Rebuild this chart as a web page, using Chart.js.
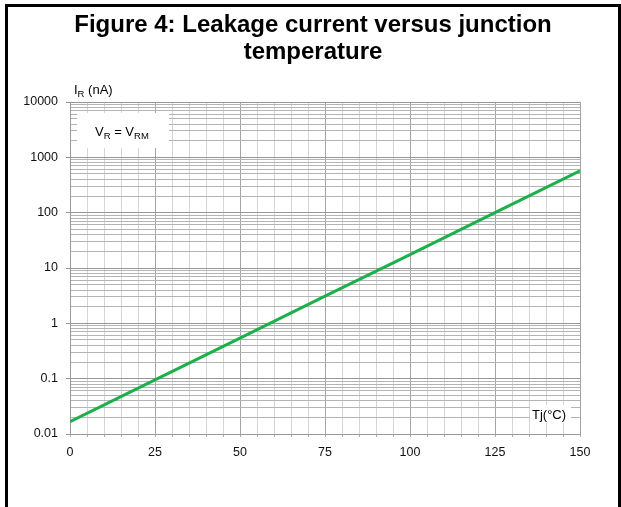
<!DOCTYPE html>
<html>
<head>
<meta charset="utf-8">
<script src="https://cdn.jsdelivr.net/npm/chart.js@4/dist/chart.umd.min.js"></script>
<style>
  html, body { margin: 0; padding: 0; background: #fff; }
  #wrap { width: 621px; height: 507px; }
</style>
</head>
<body>
<div id="wrap"><canvas id="c" width="621" height="507"></canvas></div>
<script>
// ---- data ----
const titleLines = ['Figure 4: Leakage current versus junction', 'temperature'];
const tjCelsius = [0, 25, 50, 75, 100, 125, 150];
const leakageNa = [0.0167, 0.095, 0.54, 3.1, 17.5, 100, 570];
const xTickLabels = ['0', '25', '50', '75', '100', '125', '150'];
const yTickValues = [0.01, 0.1, 1, 10, 100, 1000, 10000];
const yTickLabels = ['0.01', '0.1', '1', '10', '100', '1000', '10000'];

const FONT = '"Liberation Sans", Arial, sans-serif';

function isDecade(v) {
  return yTickValues.some(d => Math.abs(v / d - 1) < 1e-6);
}

const framePlugin = {
  id: 'frame',
  beforeDraw(chart) {
    const ctx = chart.ctx;
    ctx.save();
    ctx.fillStyle = '#ffffff';
    ctx.fillRect(0, 0, chart.width, chart.height);
    ctx.restore();
  },
  beforeDatasetsDraw(chart) {
    const ctx = chart.ctx;
    ctx.save();
    // annotation boxes
    ctx.fillStyle = '#ffffff';
    ctx.fillRect(77, 113, 92, 35);
    ctx.fillRect(530, 405, 41, 18);
    ctx.fillStyle = '#000000';
    ctx.textBaseline = 'alphabetic';
    // V_R = V_RM
    let x = 95, y = 136;
    ctx.font = '13px ' + FONT;
    ctx.fillText('V', x, y); x += ctx.measureText('V').width;
    ctx.font = '9.5px ' + FONT;
    ctx.fillText('R', x, y + 3); x += ctx.measureText('R').width;
    ctx.font = '13px ' + FONT;
    ctx.fillText(' = V', x, y); x += ctx.measureText(' = V').width;
    ctx.font = '9.5px ' + FONT;
    ctx.fillText('RM', x, y + 3);
    // Tj(°C)
    ctx.font = '13px ' + FONT;
    ctx.fillText('Tj(°C)', 532, 419);
    // I_R (nA)
    x = 74; y = 94;
    ctx.font = '13px ' + FONT;
    ctx.fillText('I', x, y); x += ctx.measureText('I').width;
    ctx.font = '9.5px ' + FONT;
    ctx.fillText('R', x, y + 3); x += ctx.measureText('R').width;
    ctx.font = '13px ' + FONT;
    ctx.fillText(' (nA)', x, y);
    ctx.restore();
  },
  afterDraw(chart) {
    const ctx = chart.ctx;
    ctx.save();
    ctx.fillStyle = '#000000';
    ctx.font = 'bold 24px ' + FONT;
    ctx.textAlign = 'center';
    ctx.textBaseline = 'alphabetic';
    ctx.fillText(titleLines[0], 313, 32);
    ctx.fillText(titleLines[1], 313, 59);
    // outer frame
    ctx.fillRect(5, 4, 616, 3);
    ctx.fillRect(5, 4, 3, 503);
    ctx.fillRect(618, 4, 3, 503);
    ctx.restore();
  }
};

new Chart(document.getElementById('c'), {
  type: 'scatter',
  data: {
    datasets: [{
      data: tjCelsius.map((t, i) => ({ x: t, y: leakageNa[i] })),
      showLine: true,
      borderColor: '#1bb04a',
      borderWidth: 3,
      pointRadius: 0,
      pointHoverRadius: 0,
      tension: 0,
      fill: false
    }]
  },
  options: {
    responsive: false,
    animation: false,
    devicePixelRatio: 1,
    layout: { padding: { top: 102, right: 41, left: 0, bottom: 0 } },
    plugins: {
      legend: { display: false },
      tooltip: { enabled: false },
      title: { display: false }
    },
    scales: {
      x: {
        type: 'linear',
        min: 0,
        max: 150,
        afterFit(scale) { scale.height = 73; },
        border: { display: true, color: '#9a9a9a', width: 1 },
        grid: {
          color: ctx => (ctx.tick && ctx.tick.value % 25 === 0) ? '#a4a4a4' : '#d6d6d6',
          tickLength: 3,
          tickColor: '#b0b0b0'
        },
        ticks: {
          stepSize: 5,
          autoSkip: false,
          maxRotation: 0,
          padding: 8,
          color: '#111',
          font: { family: FONT, size: 12.5 },
          callback(value) {
            const i = tjCelsius.indexOf(value);
            return i >= 0 ? xTickLabels[i] : '';
          }
        }
      },
      y: {
        type: 'logarithmic',
        min: 0.01,
        max: 10000,
        afterFit(scale) { scale.width = 70; },
        afterBuildTicks(scale) {
          const ticks = [];
          for (let d = 0; d < yTickValues.length - 1; d++) {
            for (let m = 1; m <= 9; m++) {
              ticks.push({ value: yTickValues[d] * m });
            }
          }
          ticks.push({ value: yTickValues[yTickValues.length - 1] });
          scale.ticks = ticks;
        },
        border: { display: true, color: '#9a9a9a', width: 1 },
        grid: {
          color: ctx => (ctx.tick && isDecade(ctx.tick.value)) ? '#979797' : '#b4b4b4',
          tickLength: 4,
          tickColor: ctx => (ctx.tick && isDecade(ctx.tick.value)) ? '#979797' : 'rgba(0,0,0,0)'
        },
        ticks: {
          autoSkip: false,
          padding: 8,
          color: '#111',
          font: { family: FONT, size: 12.5 },
          callback(value) {
            const i = yTickValues.findIndex(d => Math.abs(value / d - 1) < 1e-6);
            return i >= 0 ? yTickLabels[i] : '';
          }
        }
      }
    }
  },
  plugins: [framePlugin]
});
</script>
</body>
</html>
